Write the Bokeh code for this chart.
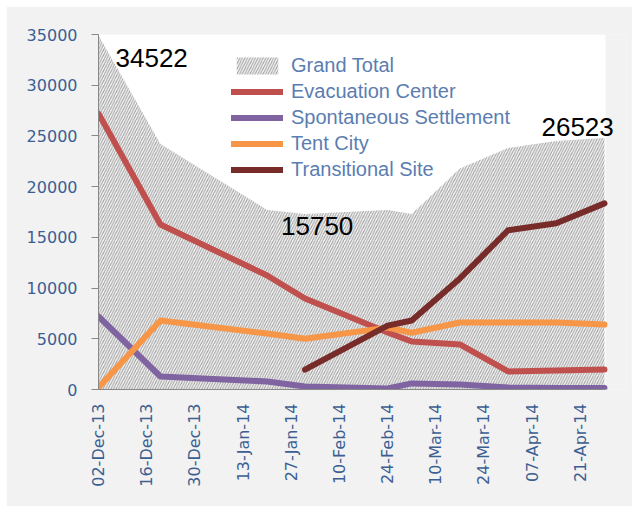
import numpy as np
import pandas as pd
from bokeh.plotting import figure
from bokeh.models import (Legend, LegendItem, Label, FixedTicker, ColumnDataSource, Range1d,
                          BoxAnnotation)
from bokeh.embed import file_html
from bokeh.resources import INLINE

# ---- data ----
dates = ["2013-12-02", "2013-12-20", "2014-01-20", "2014-01-31", "2014-02-24",
         "2014-03-03", "2014-03-17", "2014-03-31", "2014-04-14", "2014-04-28"]
grand_total = [34900, 24200, 17700, 17300, 17700, 17300, 21800, 23800, 24500, 24800]
evacuation_center = [27200, 16270, 11240, 8970, 5620, 4730, 4440, 1780, 1870, 1970]
spontaneous_settlement = [7200, 1280, 790, 300, 100, 600, 500, 200, 150, 150]
tent_city = [200, 6800, 5520, 5000, 6100, 5600, 6600, 6600, 6600, 6400]
transitional_site = [np.nan, np.nan, np.nan, 1950, 6300, 6800, 10950, 15700, 16400, 18350]

tick_labels = ["02-Dec-13", "16-Dec-13", "30-Dec-13", "13-Jan-14", "27-Jan-14", "10-Feb-14",
               "24-Feb-14", "10-Mar-14", "24-Mar-14", "07-Apr-14", "21-Apr-14"]
y_ticks = [0, 5000, 10000, 15000, 20000, 25000, 30000, 35000]

# annotated totals: (date, value text)
annotations = [("2013-12-02", 34522), ("2014-01-31", 15750), ("2014-04-28", 26523)]

# ---- build ----
start = pd.Timestamp(dates[0])
days = [(pd.Timestamp(d) - start).days for d in dates]
tick_days = [(pd.to_datetime(t, format="%d-%b-%y") - start).days for t in tick_labels]

plot_end = days[-1] + 0.3          # right end of the white plot area
frame_px, plot_px = 528, 507       # frame is wider so that the last label is not cut
x_end = plot_end * frame_px / plot_px

src = ColumnDataSource(dict(x=days, total=grand_total, evac=evacuation_center,
                            spont=spontaneous_settlement, tent=tent_city,
                            trans=transitional_site, zero=[0] * len(days)))

p = figure(width=626, height=500, output_backend="svg", toolbar_location=None,
           x_range=Range1d(0, x_end), y_range=Range1d(0, 35000),
           min_border_left=92, min_border_right=6, min_border_top=28, min_border_bottom=117)
p.margin = (6, 0, 0, 6)
p.border_fill_color = "#f2f2f2"
p.background_fill_color = "#f2f2f2"
p.outline_line_color = None
p.xgrid.visible = False
p.ygrid.visible = False

# white plot area
p.add_layout(BoxAnnotation(left=0, right=plot_end, fill_color="white", fill_alpha=1,
                           line_color=None, level="underlay"))

area = p.varea(x="x", y1="zero", y2="total", source=src, fill_color="#f5f5f5",
               hatch_pattern="/", hatch_color="#9e9e9e", hatch_scale=5.2, hatch_weight=1)

colors = {"evac": "#c0504d", "spont": "#8064a2", "tent": "#f79646", "trans": "#772c2a"}
names = {"evac": "Evacuation Center", "spont": "Spontaneous Settlement",
         "tent": "Tent City", "trans": "Transitional Site"}
renderers = {}
for key in ["evac", "spont", "tent", "trans"]:
    renderers[key] = p.line(x="x", y=key, source=src, line_color=colors[key], line_width=6,
                            line_cap="round", line_join="round")

# axes
p.yaxis.ticker = FixedTicker(ticks=y_ticks)
p.yaxis.axis_line_color = "#888888"
p.yaxis.major_tick_line_color = "#888888"
p.yaxis.major_tick_out = 7
p.yaxis.major_tick_in = 0
p.yaxis.minor_tick_line_color = None
p.yaxis.major_label_standoff = 14
p.yaxis.major_label_text_font = "DejaVu Sans"
p.yaxis.major_label_text_font_size = "16px"
p.yaxis.major_label_text_color = "#3c5f92"

p.xaxis.ticker = FixedTicker(ticks=tick_days)
p.xaxis.bounds = (0, plot_end)
p.xaxis.major_label_overrides = {d: t for d, t in zip(tick_days, tick_labels)}
p.xaxis.major_label_orientation = np.pi / 2
p.xaxis.axis_line_color = "#888888"
p.xaxis.major_tick_line_color = None
p.xaxis.minor_tick_line_color = None
p.xaxis.major_tick_out = 0
p.xaxis.major_tick_in = 0
p.xaxis.major_label_standoff = 14
p.xaxis.major_label_text_font = "DejaVu Sans"
p.xaxis.major_label_text_font_size = "16px"
p.xaxis.major_label_text_color = "#3c5f92"

# legend
items = [LegendItem(label="Grand Total", renderers=[area])]
items += [LegendItem(label=names[k], renderers=[renderers[k]]) for k in ["evac", "spont", "tent", "trans"]]
legend = Legend(items=items, location=(133, 208), orientation="vertical",
                label_text_font="Liberation Sans", label_text_font_size="20px",
                label_text_color="#5b7db1", glyph_width=52, glyph_height=21, label_height=21,
                spacing=3, padding=0, margin=0, label_standoff=8,
                background_fill_alpha=0, border_line_color=None)
p.add_layout(legend)

# total annotations
offsets = [(17, -19), (-24, 4), (-63, -7)]
for (d, v), (dx, dy) in zip(annotations, offsets):
    xd = (pd.Timestamp(d) - start).days
    p.add_layout(Label(x=xd, y=v, text=str(v), x_offset=dx, y_offset=dy,
                       text_font="Liberation Sans", text_font_size="26px",
                       text_color="black", text_align="left", text_baseline="middle"))

open("out.html", "w").write(file_html(p, INLINE))
